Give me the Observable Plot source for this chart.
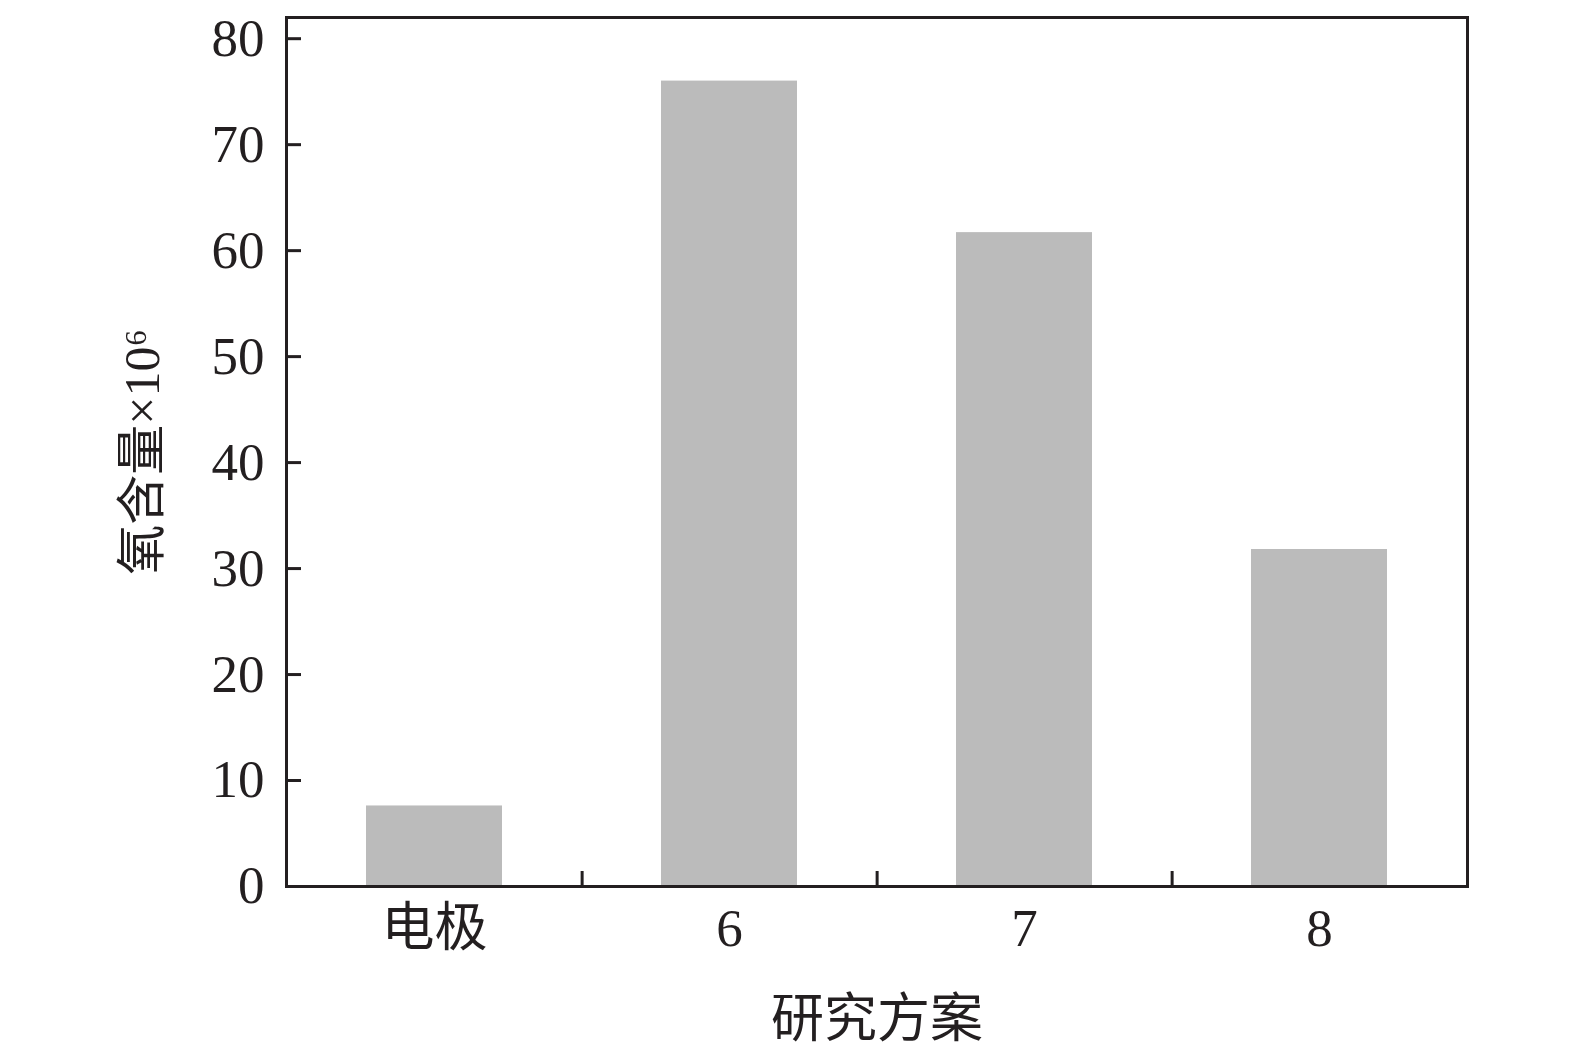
<!DOCTYPE html>
<html>
<head>
<meta charset="utf-8">
<script src="https://cdn.jsdelivr.net/npm/d3@7"></script>
<script src="https://cdn.jsdelivr.net/npm/@observablehq/plot@0.6"></script>
<style>
  html, body { margin: 0; padding: 0; background: #fff; }
  #chart svg { display: block; }
</style>
</head>
<body>
<div id="chart"></div>
<script>
const categories = ["电极", "6", "7", "8"];
const values = [7.6, 76.0, 61.7, 31.8];
const yTicks = [0, 10, 20, 30, 40, 50, 60, 70, 80];
const xTitle = "研究方案";
const yTitle = "氧含量×10⁶";

const data = categories.map((c, i) => ({cat: c, value: values[i]}));

const W = 1575, H = 1059;
const mL = 286, mR = 108, mT = 17, mB = 173;
const step = (W - mL - mR) / categories.length;
const ink = "#231f20";
const font = "'Liberation Serif', 'Times New Roman', 'Noto Sans CJK SC', serif";

const chart = Plot.plot({
  width: W,
  height: H,
  marginLeft: mL,
  marginRight: mR,
  marginTop: mT,
  marginBottom: mB,
  style: {fontFamily: font, fontSize: "52px", color: ink, background: "#fff"},
  x: {domain: categories, paddingInner: 0.54, paddingOuter: 0.27, label: null},
  y: {domain: [0, 82], label: null},
  marks: [
    Plot.barY(data, {x: "cat", y: "value", fill: "#bbbbbb"}),
    Plot.axisY({ticks: yTicks, tickSize: -15, tickPadding: 37, strokeWidth: 3, stroke: ink, fill: ink, fontSize: 53, label: null}),
    Plot.axisY({ticks: [], label: yTitle, labelAnchor: "center", labelArrow: "none", labelOffset: 163, fontSize: 50, fill: ink}),
    Plot.axisX({ticks: categories.slice(0, -1), tickSize: -15, dx: step / 2, text: null, strokeWidth: 3, stroke: ink, label: null}),
    Plot.axisX({tickSize: 0, tickPadding: 22, fontSize: 53, fill: ink, label: xTitle, labelAnchor: "center", labelArrow: "none", labelOffset: 150}),
    Plot.frame({stroke: ink, strokeWidth: 3})
  ]
});
document.getElementById("chart").appendChild(chart);
</script>
</body>
</html>
